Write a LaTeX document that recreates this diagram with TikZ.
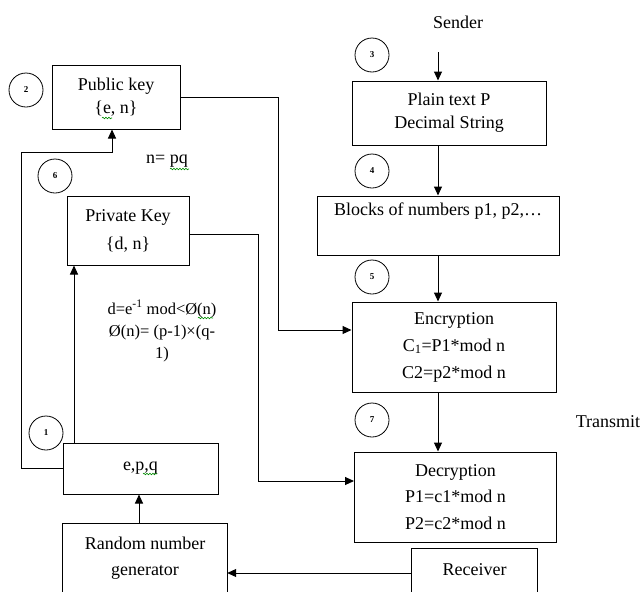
\documentclass[tikz,border=0pt]{standalone}
\usepackage{fontspec}
\setmainfont{Liberation Serif}
\usetikzlibrary{arrows.meta,decorations.pathmorphing}
\begin{document}
\begin{tikzpicture}[x=1pt,y=-1pt,
  box/.style={draw, line width=1pt, align=center, inner sep=0pt},
  txt/.style={align=center, inner sep=0pt},
  fnt/.style={font=\fontsize{18}{#1}\selectfont},
  num/.style={draw, line width=0.8pt, circle, minimum size=34pt, inner sep=0pt,
    font=\fontsize{9}{9}\selectfont\bfseries},
  link/.style={line width=1pt},
  flow/.style={line width=1pt, -{Triangle[length=9pt,width=8pt]}},
  squig/.style={draw=green!55!black, line width=0.6pt, decorate,
    decoration={snake, amplitude=0.8pt, segment length=3pt}}]
\useasboundingbox (0,0) rectangle (643,592);

% sender side
\node[txt, fnt=23] (sender) at (458,22) {Sender};
\coordinate (start) at (438,52);
\node[box, fnt=23, minimum width=194, minimum height=64] (plain) at (449,113) {Plain text P\\Decimal String};
\node[box, fnt=25, minimum width=242, minimum height=59] (blocks) at (438,225.5) {Blocks of numbers p1, p2,\dots\\\strut};
\node[box, fnt=27, minimum width=204, minimum height=90] (enc) at (454,347) {Encryption\\C\textsubscript{1}=P1*mod n\\C2=p2*mod n};
\node[box, fnt=26.5, minimum width=202, minimum height=90] (dec) at (455.5,497) {Decryption\\P1=c1*mod n\\P2=c2*mod n};
\node[txt, fnt=22] (transmit) at (608,422) {Transmit};

% receiver box runs past the lower edge
\node[txt, fnt=22, minimum width=125, minimum height=42] (rcv) at (474.5,570) {Receiver};
\draw[link] ([yshift=-20pt]rcv.south west) -- (rcv.north west) -- (rcv.north east) -- ([yshift=-20pt]rcv.south east);

% key generation side
\node[box, fnt=23, minimum width=128, minimum height=64] (pub) at (116,97) {Public key\\\{e, n\}};
\node[txt, fnt=22] (npq) at (167,161) {n= pq};
\node[box, fnt=28, minimum width=122, minimum height=69] (priv) at (128,230.5) {Private Key\\\{d, n\}};
\node[txt, font=\fontsize{16.5}{22}\selectfont] (phi) at (162,331)
  {d=e\textsuperscript{-1} mod<Ø(n)\\Ø(n)= (p-1)×(q-\\1)};
\node[box, fnt=22, minimum width=155, minimum height=51] (epq) at (140.5,468.5) {e,p,q};
\node[txt, fnt=26, minimum width=164, minimum height=68] (rng) at (145,558) {Random number\\generator};
\draw[link] ([yshift=-20pt]rng.south west) -- (rng.north west) -- (rng.north east) -- ([yshift=-20pt]rng.south east);

% step numbers
\node[num] (s1) at (46,433) {1};
\node[num] (s2) at (26,90) {2};
\node[num] (s3) at (372,55) {3};
\node[num] (s4) at (372,171) {4};
\node[num] (s5) at (372,277) {5};
\node[num] (s6) at (55,176) {6};
\node[num] (s7) at (372,420) {7};

% guide coordinates for the connectors
\coordinate (xa) at (438,0);
\coordinate (xb) at (74,0);
\coordinate (xc) at (139,0);
\coordinate (loop) at (21,152);
\coordinate (kpub) at (278,330);
\coordinate (kpriv) at (258,481);
\coordinate (yr) at (0,573);

% connectors
\draw[flow] (start) -- (start |- plain.north);
\draw[flow] (plain.south -| xa) -- (blocks.north -| xa);
\draw[flow] (blocks.south -| xa) -- (enc.north -| xa);
\draw[flow] (enc.south -| xa) -- (dec.north -| xa);
\draw[flow] (pub.east) -| (kpub) -- (kpub -| enc.west);
\draw[flow] ([yshift=-3.5pt]priv.east) -| (kpriv) -- (kpriv -| dec.west);
\draw[flow] (rcv.west |- yr) -- (rng.east |- yr);
\draw[flow] (rng.north -| xc) -- (epq.south -| xc);
\draw[flow] (epq.north -| xb) -- (priv.south -| xb);
\draw[flow] (epq.west) -| (loop) -| ([xshift=-4pt]pub.south);

% spelling marks under a few words
\draw[squig] (102,118) -- (112,118);
\draw[squig] (170,169) -- (189,169);
\draw[squig] (198,318) -- (213,318);
\draw[squig] (143,474) -- (157,474);
\end{tikzpicture}
\end{document}
